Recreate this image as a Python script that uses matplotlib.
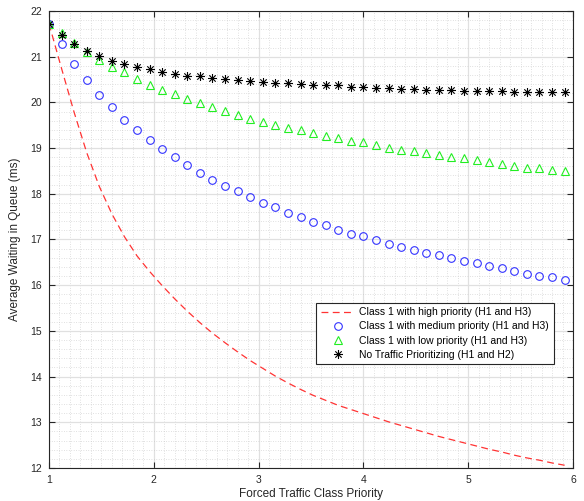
import matplotlib.pyplot as plt
from matplotlib.path import Path
from matplotlib.ticker import MultipleLocator

# prioridad forzada (eje x)
prioridad = [1.00, 1.12, 1.24, 1.36, 1.48, 1.60, 1.72, 1.84, 1.96, 2.08,
             2.20, 2.32, 2.44, 2.56, 2.68, 2.80, 2.92, 3.04, 3.16, 3.28,
             3.40, 3.52, 3.64, 3.76, 3.88, 4.00, 4.12, 4.24, 4.36, 4.48,
             4.60, 4.72, 4.84, 4.96, 5.08, 5.20, 5.32, 5.44, 5.56, 5.68,
             5.80, 5.92]

espera_alta = [21.72, 20.74, 19.78, 18.90, 18.16, 17.56, 17.06, 16.64, 16.30, 15.99,
               15.70, 15.43, 15.18, 14.95, 14.74, 14.54, 14.35, 14.18, 14.01, 13.86,
               13.72, 13.59, 13.48, 13.37, 13.28, 13.19, 13.10, 13.01, 12.93, 12.85,
               12.77, 12.69, 12.62, 12.55, 12.48, 12.41, 12.35, 12.28, 12.22, 12.17,
               12.11, 12.06]

espera_media = [21.72, 21.27, 20.84, 20.49, 20.16, 19.89, 19.62, 19.39, 19.17, 18.98,
                18.80, 18.62, 18.46, 18.31, 18.17, 18.05, 17.93, 17.80, 17.70, 17.59,
                17.49, 17.39, 17.31, 17.21, 17.13, 17.07, 16.99, 16.90, 16.84, 16.76,
                16.71, 16.65, 16.59, 16.54, 16.48, 16.43, 16.37, 16.30, 16.25, 16.21,
                16.17, 16.11]

espera_baja = [21.72, 21.51, 21.29, 21.10, 20.93, 20.78, 20.66, 20.51, 20.38, 20.27,
               20.18, 20.07, 19.99, 19.90, 19.81, 19.72, 19.63, 19.58, 19.51, 19.45,
               19.40, 19.34, 19.26, 19.22, 19.16, 19.13, 19.07, 19.01, 18.96, 18.93,
               18.89, 18.84, 18.81, 18.78, 18.74, 18.69, 18.66, 18.61, 18.57, 18.56,
               18.52, 18.49]

espera_sin_prioridad = [21.72, 21.47, 21.28, 21.13, 21.01, 20.90, 20.84, 20.78, 20.72, 20.67,
                        20.62, 20.58, 20.57, 20.53, 20.51, 20.49, 20.47, 20.45, 20.43, 20.42,
                        20.40, 20.38, 20.37, 20.37, 20.34, 20.34, 20.32, 20.31, 20.30, 20.29,
                        20.28, 20.27, 20.27, 20.25, 20.25, 20.25, 20.24, 20.23, 20.23, 20.23,
                        20.22, 20.22]

etiquetas = [
    "Class 1 with high priority (H1 and H3)",
    "Class 1 with medium priority (H1 and H3)",
    "Class 1 with low priority (H1 and H3)",
    "No Traffic Prioritizing (H1 and H2)",
]

plt.rcParams["font.family"] = ["Liberation Sans", "DejaVu Sans"]

# asterisco estilo MATLAB (+ y x juntos)
d = 0.7071
asterisco = Path(
    [(-1, 0), (1, 0), (0, -1), (0, 1), (-d, -d), (d, d), (-d, d), (d, -d)],
    [Path.MOVETO, Path.LINETO] * 4,
)

fig = plt.figure(figsize=(5.84, 5.01), dpi=100)
ax = fig.add_axes([0.0839, 0.0659, 0.8973, 0.9122])

ax.plot(prioridad, espera_alta, color="#ff3333", linestyle=(0, (5.5, 3.5)),
        linewidth=0.9, label=etiquetas[0])
ax.plot(prioridad, espera_media, linestyle="none", marker="o", markersize=5.5,
        markerfacecolor="none", markeredgecolor="#3333ff", markeredgewidth=0.8,
        label=etiquetas[1])
ax.plot(prioridad, espera_baja, linestyle="none", marker="^", markersize=6,
        markerfacecolor="none", markeredgecolor="#22ee22", markeredgewidth=0.8,
        label=etiquetas[2])
ax.plot(prioridad, espera_sin_prioridad, linestyle="none", marker=asterisco,
        markersize=6.5, markerfacecolor="none", markeredgecolor="black",
        markeredgewidth=0.8, label=etiquetas[3])

ax.set_xlim(1, 6)
ax.set_ylim(12, 22)
ax.xaxis.set_major_locator(MultipleLocator(1))
ax.yaxis.set_major_locator(MultipleLocator(1))
ax.xaxis.set_minor_locator(MultipleLocator(0.1))
ax.yaxis.set_minor_locator(MultipleLocator(0.2))

ax.grid(which="major", color="#e0e0e0", linewidth=0.9)
ax.grid(which="minor", color="#c4c4c4", linestyle=(0, (1, 2.5)), linewidth=0.5)
ax.set_axisbelow(True)

ax.tick_params(which="major", direction="in", length=4, width=0.8,
               top=True, right=True, labelsize=7.5, colors="#262626", pad=5)
ax.tick_params(which="minor", length=0)
for s in ax.spines.values():
    s.set_color("#262626")
    s.set_linewidth(0.8)

ax.set_xlabel("Forced Traffic Class Priority", fontsize=8.5, color="#262626", labelpad=2)
ax.set_ylabel("Average Waiting in Queue (ms)", fontsize=8.5, color="#262626", labelpad=7)

leg = ax.legend(loc="upper left", bbox_to_anchor=(0.51, 0.362), fontsize=7.5,
                fancybox=False, framealpha=1, edgecolor="#262626",
                handlelength=3.2, borderpad=0.45, labelspacing=0.4,
                handletextpad=0.5, borderaxespad=0)
leg.get_frame().set_linewidth(0.8)

plt.savefig("out.png", dpi=100)
